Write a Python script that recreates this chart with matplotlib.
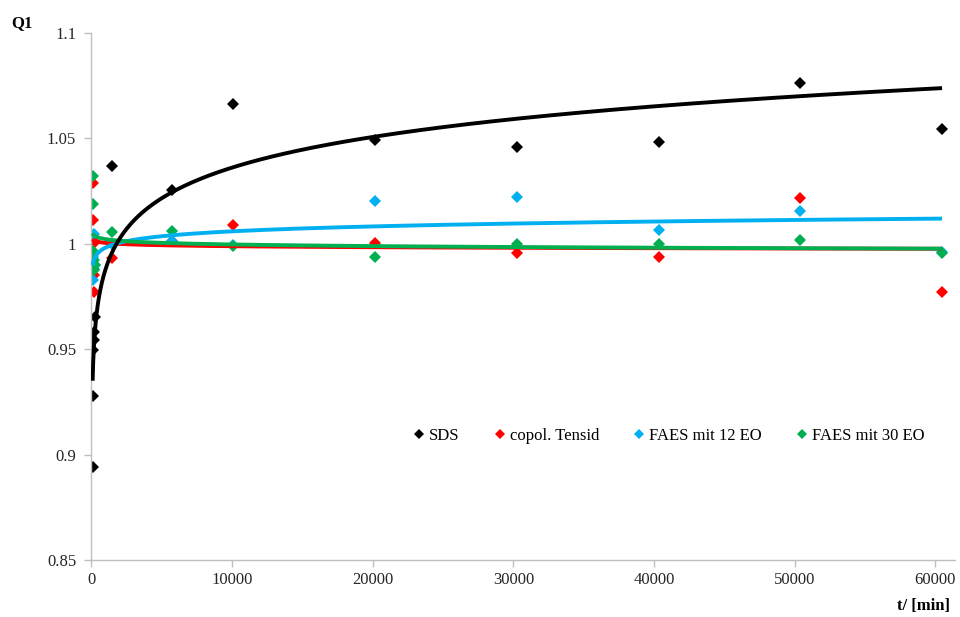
import numpy as np
import matplotlib
matplotlib.use("Agg")
import matplotlib.pyplot as plt

# time in minutes
t = [80, 100, 120, 150, 180, 240, 1440, 5760, 10080, 20160, 30240, 40320, 50400, 60480]

sds = [0.8943, 0.9278, 0.9496, 0.9583, 0.9544, 0.9654,
       1.0369, 1.0255, 1.0663, 1.0492, 1.0459, 1.0483, 1.0763, 1.0543]
copol = [1.0287, 1.0113, 1.0030, 0.9850, 0.9773, 1.0010,
         0.9931, 1.0015, 1.0089, 1.0005, 0.9958, 0.9936, 1.0216, 0.9773]
faes12 = [0.9828, 0.9890, 0.9939, 1.0046, 0.9880, 0.9900,
          1.0000, 1.0015, 0.9995, 1.0204, 1.0223, 1.0065, 1.0157, 0.9960]
faes30 = [1.0322, 1.0187, 0.9967, 0.9923, 0.9876, 0.9900,
          1.0057, 1.0061, 0.9990, 0.9939, 0.9998, 0.9998, 1.0018, 0.9958]

labels = ["SDS", "copol. Tensid", "FAES mit 12 EO", "FAES mit 30 EO"]
colors = ["#000000", "#FF0000", "#00B0F0", "#00B050"]
series = [sds, copol, faes12, faes30]

yticks = [0.85, 0.9, 0.95, 1.0, 1.05, 1.1]
yticklabels = ["0.85", "0.9", "0.95", "1", "1.05", "1.1"]
xticks = [0, 10000, 20000, 30000, 40000, 50000, 60000]

plt.rcParams['font.family'] = ['Liberation Serif', 'DejaVu Serif']

fig = plt.figure(figsize=(9.6, 6.17), dpi=100)
ax = fig.add_axes([0.0953, 0.0924, 0.8995, 0.8541])

tx = np.array(t, dtype=float)
xs = np.geomspace(tx.min(), tx.max(), 600)
line_z = {"SDS": 6, "copol. Tensid": 3, "FAES mit 12 EO": 4, "FAES mit 30 EO": 5}
for lab, col, ys in zip(labels, colors, series):
    ax.plot(t, ys, linestyle="none", marker="D", markersize=6.2, color=col,
            markeredgewidth=0, label=lab, zorder=2)
    a, b = np.polyfit(np.log(tx), np.array(ys), 1)
    ax.plot(xs, a * np.log(xs) + b, color=col, lw=2.8, zorder=line_z[lab],
            solid_capstyle="butt")

ax.set_xlim(0, 61400)
ax.set_ylim(0.85, 1.1)
ax.set_yticks(yticks)
ax.set_yticklabels(yticklabels)
ax.set_xticks(xticks)
ax.set_xticklabels([str(v) for v in xticks])

for s in ["top", "right"]:
    ax.spines[s].set_visible(False)
for s in ["left", "bottom"]:
    ax.spines[s].set_color("#BFBFBF")
    ax.spines[s].set_linewidth(1.0)
ax.tick_params(axis="both", colors="#BFBFBF", labelcolor="#262626",
               labelsize=12, length=5, width=1.0, direction="out")
ax.tick_params(axis="y", pad=6)
ax.tick_params(axis="x", pad=4)

fig.text(0.012, 0.962, "Q1", fontsize=12, fontweight="bold", ha="left", va="center")
fig.text(0.99, 0.018, "t/ [min]", fontsize=12, fontweight="bold", ha="right", va="center")

leg = ax.legend(loc="center", bbox_to_anchor=(0.667, 0.235), ncol=4, frameon=False,
                fontsize=12, handletextpad=0.1, columnspacing=1.9, handlelength=1.0,
                markerscale=0.8)

fig.savefig("out.png", dpi=100)
